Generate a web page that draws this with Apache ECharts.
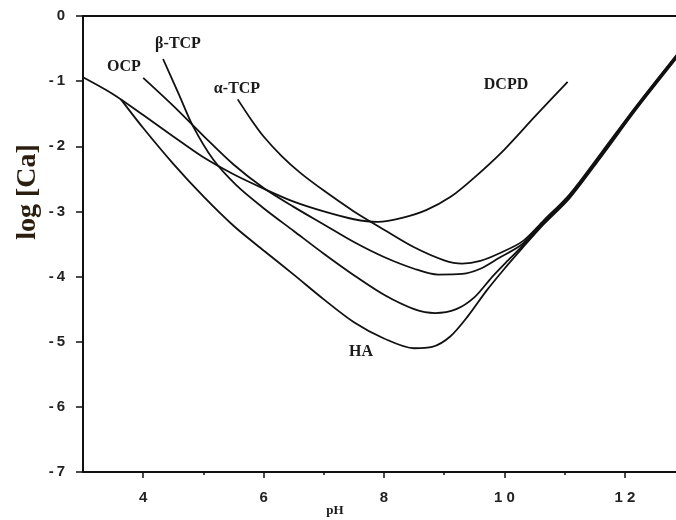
<!DOCTYPE html>
<html>
<head>
<meta charset="utf-8">
<script src="https://cdn.jsdelivr.net/npm/echarts@6/dist/echarts.min.js"></script>
<style>
html, body { margin: 0; padding: 0; background: #fff; }
#chart { width: 676px; height: 520px; }
</style>
</head>
<body>
<div id="chart"></div>
<script>
// tick values
var xTicks = [4, 6, 8, 10, 12];
var xMinorTicks = [5, 7, 9, 11];

// solubility isotherms (pH -> log[Ca])
var dcpdPH    = [3.0, 3.5, 4.0, 4.5, 5.0, 5.5, 6.0, 6.5, 7.0, 7.5, 7.9, 8.3, 8.7, 9.1, 9.5, 10.0, 10.5, 11.05];
var dcpdLogCa = [-0.94, -1.2, -1.52, -1.85, -2.17, -2.43, -2.65, -2.85, -3.0, -3.12, -3.16, -3.1, -2.98, -2.78, -2.48, -2.05, -1.55, -1.01];

var haPH    = [3.63, 4.0, 4.5, 5.0, 5.5, 6.0, 6.5, 7.0, 7.5, 8.0, 8.5, 8.8, 9.1, 9.4, 9.7, 10.0, 10.3, 10.65, 11.08, 11.6, 12.2, 12.9];
var haLogCa = [-1.28, -1.72, -2.27, -2.77, -3.22, -3.6, -3.97, -4.35, -4.7, -4.95, -5.1, -5.08, -4.92, -4.6, -4.22, -3.88, -3.56, -3.2, -2.8, -2.17, -1.42, -0.6];

var btcpPH    = [4.33, 4.6, 4.82, 5.16, 5.55, 6.0, 6.5, 7.0, 7.5, 8.0, 8.5, 8.85, 9.2, 9.5, 9.8, 10.05, 10.3, 10.65, 11.08, 11.6, 12.2, 12.9];
var btcpLogCa = [-0.66, -1.22, -1.68, -2.2, -2.6, -2.95, -3.3, -3.65, -3.98, -4.28, -4.5, -4.56, -4.5, -4.32, -4.0, -3.76, -3.53, -3.18, -2.78, -2.15, -1.4, -0.58];

var ocpPH    = [4.0, 4.5, 5.0, 5.5, 6.0, 6.5, 7.0, 7.5, 8.0, 8.5, 8.9, 9.3, 9.6, 9.9, 10.3, 10.65, 11.08, 11.6, 12.2, 12.9];
var ocpLogCa = [-0.95, -1.38, -1.84, -2.28, -2.64, -2.93, -3.2, -3.47, -3.7, -3.88, -3.97, -3.96, -3.88, -3.72, -3.5, -3.16, -2.76, -2.13, -1.38, -0.56];

var atcpPH    = [5.57, 5.8, 6.0, 6.3, 6.6, 7.0, 7.5, 8.0, 8.5, 9.0, 9.3, 9.6, 9.9, 10.3, 10.65, 11.08, 11.6, 12.2, 12.9];
var atcpLogCa = [-1.28, -1.6, -1.85, -2.15, -2.4, -2.68, -3.0, -3.28, -3.55, -3.75, -3.8, -3.76, -3.65, -3.46, -3.14, -2.74, -2.11, -1.37, -0.55];

function pairs(xs, ys) {
    return xs.map(function (x, i) { return [x, ys[i]]; });
}

function curve(name, xs, ys) {
    return {
        name: name,
        type: 'line',
        xAxisIndex: 0,
        data: pairs(xs, ys),
        showSymbol: false,
        smooth: 0.3,
        lineStyle: { color: '#111', width: 1.8 },
        silent: true
    };
}

var chart = echarts.init(document.getElementById('chart'));

var tickFont = { fontFamily: '"Liberation Sans", Arial, sans-serif', fontWeight: 'bold', fontSize: 15, color: '#222' };
var serif = '"Liberation Serif", "Times New Roman", serif';
var X_MIN = 3, X_MAX = 12.85;

function labelText(txt, x, y) {
    return {
        type: 'text', x: x, y: y,
        style: { text: txt, fontFamily: serif, fontWeight: 'bold', fontSize: 16, fill: '#1a1a1a', align: 'center', verticalAlign: 'middle' }
    };
}

chart.setOption({
    animation: false,
    backgroundColor: '#fff',
    grid: { left: 83, right: 0, top: 16, bottom: 48 },
    xAxis: [
        {
            // main bottom axis: line, long ticks and labels at even pH
            type: 'value', min: X_MIN, max: X_MAX, position: 'bottom', offset: 0,
            axisLine: { onZero: false, lineStyle: { color: '#111', width: 2 } },
            axisTick: { customValues: xTicks, length: 6, lineStyle: { color: '#111', width: 1.5 } },
            axisLabel: Object.assign({
                customValues: xTicks, margin: 18,
                formatter: function (v) { return String(v).split('').join(' '); }
            }, tickFont),
            splitLine: { show: false }
        },
        {
            // short ticks at odd pH
            type: 'value', min: X_MIN, max: X_MAX, position: 'bottom', offset: 0,
            axisLine: { show: false, onZero: false },
            axisTick: { customValues: xMinorTicks, length: 3, lineStyle: { color: '#111', width: 1.5 } },
            axisLabel: { show: false },
            splitLine: { show: false }
        },
        {
            // top frame line
            type: 'value', min: X_MIN, max: X_MAX, position: 'top', offset: 0,
            axisLine: { onZero: false, lineStyle: { color: '#111', width: 2 } },
            axisTick: { show: false },
            axisLabel: { show: false },
            splitLine: { show: false }
        }
    ],
    yAxis: {
        type: 'value', min: -7, max: 0, interval: 1,
        axisLine: { onZero: false, lineStyle: { color: '#111', width: 2 } },
        axisTick: { length: 7, lineStyle: { color: '#111', width: 1.5 } },
        axisLabel: Object.assign({
            margin: 18,
            formatter: function (v) { return v < 0 ? '-\u2009' + Math.abs(v) : String(v); }
        }, tickFont),
        splitLine: { show: false }
    },
    graphic: [
        {
            type: 'text', x: 28, y: 192, rotation: Math.PI / 2,
            style: { text: 'log [Ca]', fontFamily: serif, fontWeight: 'bold', fontSize: 28, fill: '#2b1e0f', align: 'center', verticalAlign: 'middle' }
        },
        {
            type: 'text', x: 335, y: 511,
            style: { text: 'pH', fontFamily: serif, fontWeight: 'bold', fontSize: 13, fill: '#1a1a1a', align: 'center', verticalAlign: 'middle' }
        },
        labelText('OCP', 124, 67),
        labelText('β-TCP', 178, 44),
        labelText('α-TCP', 237, 89),
        labelText('DCPD', 506, 85),
        labelText('HA', 361, 352)
    ],
    series: [
        curve('DCPD', dcpdPH, dcpdLogCa),
        curve('HA', haPH, haLogCa),
        curve('β-TCP', btcpPH, btcpLogCa),
        curve('OCP', ocpPH, ocpLogCa),
        curve('α-TCP', atcpPH, atcpLogCa)
    ]
});
</script>
</body>
</html>
